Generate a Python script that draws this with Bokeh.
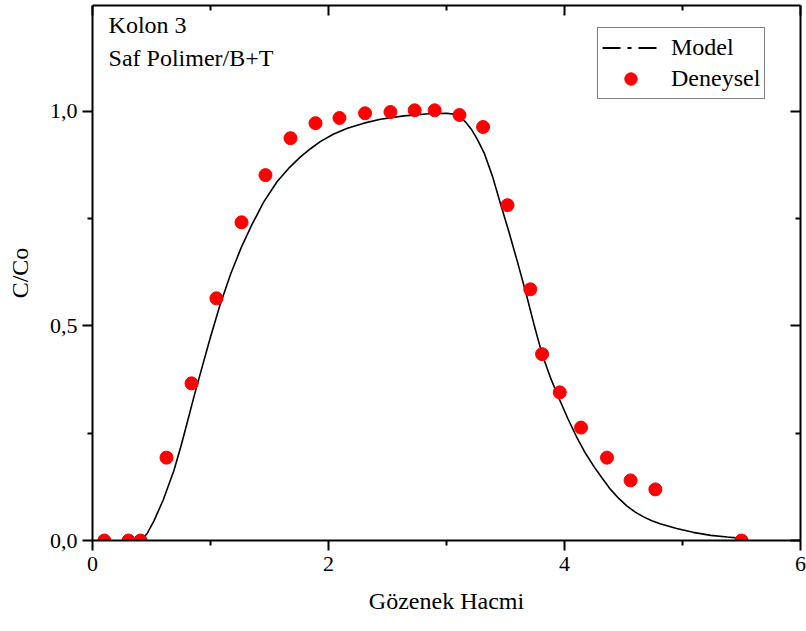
from bokeh.plotting import figure
from bokeh.models import (LinearAxis, FixedTicker, CustomJSTickFormatter, Range1d,
                          Legend, LegendItem, Label, ColumnDataSource)
from bokeh.embed import file_html
from bokeh.resources import INLINE

# ---- data ----
exp_x = [0.10, 0.305, 0.407, 0.627, 0.839, 1.05, 1.263, 1.466, 1.678, 1.89, 2.093,
         2.31, 2.525, 2.73, 2.90, 3.11, 3.31, 3.517, 3.71, 3.81, 3.96, 4.14, 4.36,
         4.56, 4.77, 5.50]
exp_y = [0.0, 0.0, 0.0, 0.193, 0.366, 0.564, 0.741, 0.851, 0.937, 0.972, 0.984,
         0.995, 0.998, 1.002, 1.002, 0.991, 0.963, 0.781, 0.585, 0.434, 0.345, 0.263,
         0.193, 0.140, 0.119, 0.0]

model_x = [0.40, 0.46, 0.52, 0.60, 0.69, 0.75, 0.80, 0.86, 0.93, 1.00, 1.08, 1.17,
           1.26, 1.35, 1.45, 1.565, 1.66, 1.76, 1.85, 1.93, 2.04, 2.16, 2.30, 2.44,
           2.64, 2.85, 3.00, 3.06, 3.11, 3.16, 3.21, 3.26, 3.32, 3.39, 3.46, 3.53,
           3.60, 3.67, 3.74, 3.81, 3.88, 3.95, 4.03, 4.11, 4.18, 4.25, 4.32, 4.39,
           4.46, 4.53, 4.60, 4.67, 4.74, 4.81, 4.95, 5.09, 5.24, 5.38, 5.50]
model_y = [0.0, 0.015, 0.045, 0.095, 0.163, 0.220, 0.272, 0.335, 0.405, 0.474, 0.548,
           0.620, 0.682, 0.735, 0.788, 0.836, 0.866, 0.893, 0.913, 0.929, 0.946,
           0.960, 0.972, 0.981, 0.989, 0.994, 0.995, 0.993, 0.987, 0.975, 0.958,
           0.935, 0.902, 0.848, 0.782, 0.718, 0.650, 0.580, 0.505, 0.434, 0.380,
           0.333, 0.283, 0.237, 0.202, 0.172, 0.145, 0.119, 0.098, 0.080, 0.066,
           0.055, 0.046, 0.039, 0.028, 0.019, 0.012, 0.008, 0.005]

x_ticks = [0, 2, 4, 6]
x_minor = [1, 3, 5]
y_ticks = [0.0, 0.5, 1.0]
y_minor = [0.25, 0.75]

title_lines = ["Kolon 3", "Saf Polimer/B+T"]
x_label = "Gözenek Hacmi"
y_label = "C/Co"
series_names = ["Model", "Deneysel"]

FONT = "Liberation Serif"

p = figure(width=806, height=631, output_backend="svg", toolbar_location=None,
           x_range=Range1d(0, 6), y_range=Range1d(0, 1.246),
           min_border_left=92, min_border_right=6, min_border_top=5, min_border_bottom=91,
           x_axis_location=None, y_axis_location=None)
p.grid.visible = False
p.outline_line_color = None

comma_fmt = CustomJSTickFormatter(code="return tick.toFixed(1).replace('.', ',');")
blank_fmt = CustomJSTickFormatter(code="return '';")


def style_axis(ax, ticker, inward=False):
    ax.ticker = ticker
    ax.axis_line_width = 2
    ax.axis_line_color = "black"
    ax.major_tick_line_width = 2
    ax.minor_tick_line_width = 2
    ax.major_tick_line_color = "black"
    ax.minor_tick_line_color = "black"
    if inward:
        ax.major_tick_in = 10
        ax.major_tick_out = 0
        ax.minor_tick_in = 5
        ax.minor_tick_out = 0
    else:
        ax.major_tick_in = 0
        ax.major_tick_out = 10
        ax.minor_tick_in = 0
        ax.minor_tick_out = 5
    ax.major_label_text_font = FONT
    ax.major_label_text_font_size = "22px"
    ax.major_label_text_color = "black"
    ax.axis_label_text_font = FONT
    ax.axis_label_text_font_size = "24px"
    ax.axis_label_text_font_style = "normal"
    ax.axis_label_text_color = "black"


xb = LinearAxis(axis_label=x_label)
style_axis(xb, FixedTicker(ticks=x_ticks, minor_ticks=x_minor))
xb.major_label_standoff = 6
xb.axis_label_standoff = 14
p.add_layout(xb, "below")

yl = LinearAxis(axis_label=y_label, formatter=comma_fmt)
style_axis(yl, FixedTicker(ticks=y_ticks, minor_ticks=y_minor))
yl.major_label_standoff = 5
yl.axis_label_standoff = 14
p.add_layout(yl, "left")

xt = LinearAxis(formatter=blank_fmt)
style_axis(xt, FixedTicker(ticks=x_ticks, minor_ticks=x_minor), inward=True)
p.add_layout(xt, "above")

yr = LinearAxis(formatter=blank_fmt)
style_axis(yr, FixedTicker(ticks=y_ticks, minor_ticks=y_minor), inward=True)
p.add_layout(yr, "right")

model_src = ColumnDataSource(dict(x=model_x, y=model_y))
exp_src = ColumnDataSource(dict(x=exp_x, y=exp_y))

p.line("x", "y", source=model_src, line_color="black", line_width=1.6)
# legend proxy for the model (dash-dot style shown in the key only)
proxy = p.line(x=model_x[:1], y=model_y[:1], line_color="black", line_width=2,
               line_dash="18 7 4 7")
pts = p.scatter("x", "y", source=exp_src, size=13, fill_color="#FF0000",
                line_color="#FF0000")

legend = Legend(items=[LegendItem(label=series_names[0], renderers=[proxy]),
                       LegendItem(label=series_names[1], renderers=[pts])],
                location=(505, 441))
legend.label_text_font = FONT
legend.label_text_font_size = "24px"
legend.label_text_color = "black"
legend.border_line_color = "black"
legend.border_line_width = 1
legend.padding = 4
legend.spacing = 0
legend.glyph_width = 57
legend.glyph_height = 31
legend.label_height = 24
legend.label_standoff = 12
legend.margin = 0
p.add_layout(legend, "center")

p.add_layout(Label(x=0.136, y=1.17, text=title_lines[0], text_font=FONT,
                   text_font_size="24px", text_color="black"))
p.add_layout(Label(x=0.136, y=1.093, text=title_lines[1], text_font=FONT,
                   text_font_size="24px", text_color="black"))

open("out.html", "w").write(file_html(p, INLINE))
